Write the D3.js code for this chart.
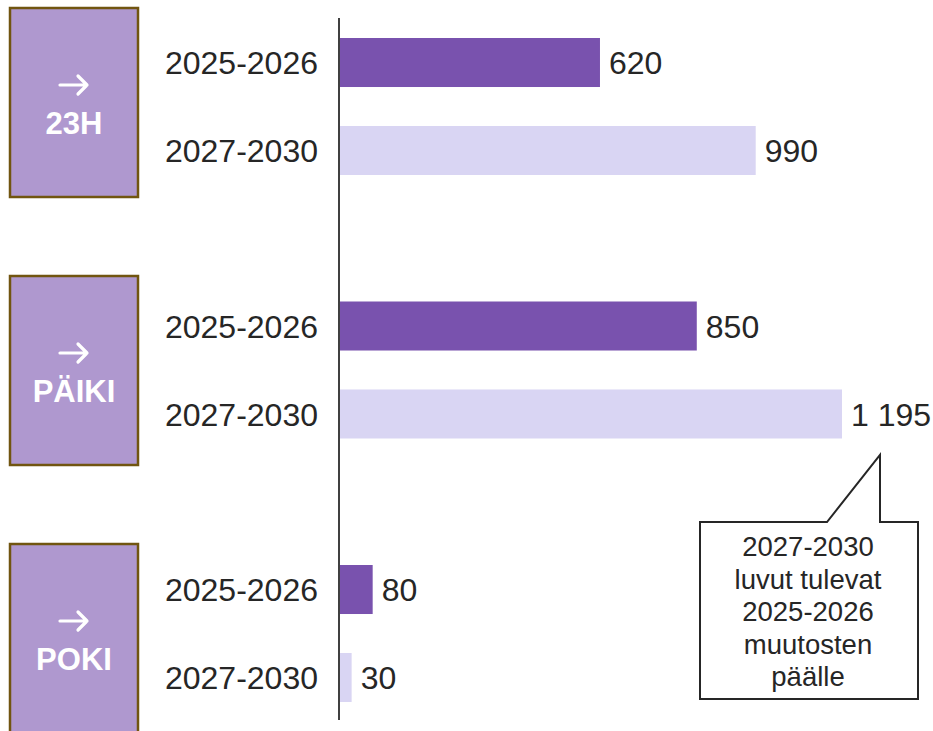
<!DOCTYPE html>
<html>
<head>
  <meta charset="utf-8">
  <style>
  body{
    margin:0;
    background:#fff;
  }
  svg text{
    font-family: "Liberation Sans", Arial, sans-serif;
  }
  </style>
</head>
<body>
  <svg width="933" height="731"></svg>
  <script src="https://d3js.org/d3.v7.min.js"></script>
  <script>

  // data
  var groups = ["23H", "PÄIKI", "POKI"];
  var periods = ["2025-2026", "2027-2030"];
  var values2025 = [620, 850, 80];
  var values2027 = [990, 1195, 30];
  var valueLabels2025 = ["620", "850", "80"];
  var valueLabels2027 = ["990", "1 195", "30"];
  var calloutLines = ["2027-2030", "luvut tulevat", "2025-2026", "muutosten", "päälle"];

  var rows = [];
  groups.forEach(function(g, i) {
    rows.push({group: g, period: periods[0], value: values2025[i], label: valueLabels2025[i]});
    rows.push({group: g, period: periods[1], value: values2027[i], label: valueLabels2027[i]});
  });

  var svg = d3.select("svg");

  var x = d3.scaleLinear()
      .domain([0, 1195])
      .range([339, 842]);

  // group bands (first bar top at 38, 301.5, 565)
  var y0 = d3.scaleBand()
      .domain(groups)
      .range([38, 38 + 263.5 * 3])
      .paddingInner(0)
      .paddingOuter(0);

  var y1 = d3.scaleBand()
      .domain(periods)
      .range([0, 137])
      .paddingInner(0.443)
      .paddingOuter(0);

  var boxY = d3.scalePoint()
      .domain(groups)
      .range([8, 544]);

  var colors = d3.scaleOrdinal()
      .domain(periods)
      .range(["#7952ae", "#d9d5f3"]);

  // left boxes
  var box = svg.selectAll("g.box")
    .data(groups)
    .enter().append("g")
      .attr("class", "box")
      .attr("transform", function(d) { return "translate(10," + boxY(d) + ")"; });

  box.append("rect")
      .attr("width", 128)
      .attr("height", 189)
      .attr("fill", "#af98cf")
      .attr("stroke", "#715510")
      .attr("stroke-width", 2.5);

  // arrow
  box.append("path")
      .attr("d", "M50,77H77M68,68L77,77L68,86")
      .attr("fill", "none")
      .attr("stroke", "#fff")
      .attr("stroke-width", 3.2)
      .attr("stroke-linecap", "round")
      .attr("stroke-linejoin", "round");

  box.append("text")
      .attr("x", 64)
      .attr("y", 94.5 + 31)
      .attr("text-anchor", "middle")
      .attr("fill", "#fff")
      .style("font-size", "31px")
      .style("font-weight", "bold")
      .text(function(d) { return d; });

  // bars
  svg.selectAll("rect.bar")
    .data(rows)
    .enter().append("rect")
      .attr("class", "bar")
      .attr("x", x(0) + 1)
      .attr("y", function(d) { return y0(d.group) + y1(d.period); })
      .attr("width", function(d) { return x(d.value) - x(0) - 1; })
      .attr("height", y1.bandwidth())
      .attr("fill", function(d) { return colors(d.period); });

  // category labels
  svg.selectAll("text.cat")
    .data(rows)
    .enter().append("text")
      .attr("class", "cat")
      .attr("x", 318)
      .attr("y", function(d) { return y0(d.group) + y1(d.period) + y1.bandwidth() / 2; })
      .attr("dy", "0.36em")
      .attr("text-anchor", "end")
      .attr("fill", "#262626")
      .style("font-size", "32px")
      .text(function(d) { return d.period; });

  // value labels
  svg.selectAll("text.val")
    .data(rows)
    .enter().append("text")
      .attr("class", "val")
      .attr("x", function(d) { return x(d.value) + 9; })
      .attr("y", function(d) { return y0(d.group) + y1(d.period) + y1.bandwidth() / 2; })
      .attr("dy", "0.36em")
      .attr("fill", "#262626")
      .style("font-size", "32px")
      .text(function(d) { return d.label; });

  // axis line
  svg.append("line")
      .attr("x1", x(0))
      .attr("x2", x(0))
      .attr("y1", 18)
      .attr("y2", 720)
      .attr("stroke", "#404040")
      .attr("stroke-width", 2);

  // callout
  var tipX = x(1195) + 38, tipY = 455;
  var cx0 = 700, cx1 = 918, cy0 = 522, cy1 = 699;
  svg.append("path")
      .attr("d", "M" + cx0 + "," + cy0 +
        "H" + (tipX - 53) + "L" + tipX + "," + tipY +
        "V" + cy0 + "H" + cx1 + "V" + cy1 + "H" + cx0 + "Z")
      .attr("fill", "#fff")
      .attr("stroke", "#262626")
      .attr("stroke-width", 2);

  svg.selectAll("text.callout")
    .data(calloutLines)
    .enter().append("text")
      .attr("class", "callout")
      .attr("x", (cx0 + cx1) / 2 - 1)
      .attr("y", function(d, i) { return 556 + i * 32.5; })
      .attr("text-anchor", "middle")
      .attr("fill", "#262626")
      .style("font-size", "27.5px")
      .text(function(d) { return d; });

  </script>
</body>
</html>
